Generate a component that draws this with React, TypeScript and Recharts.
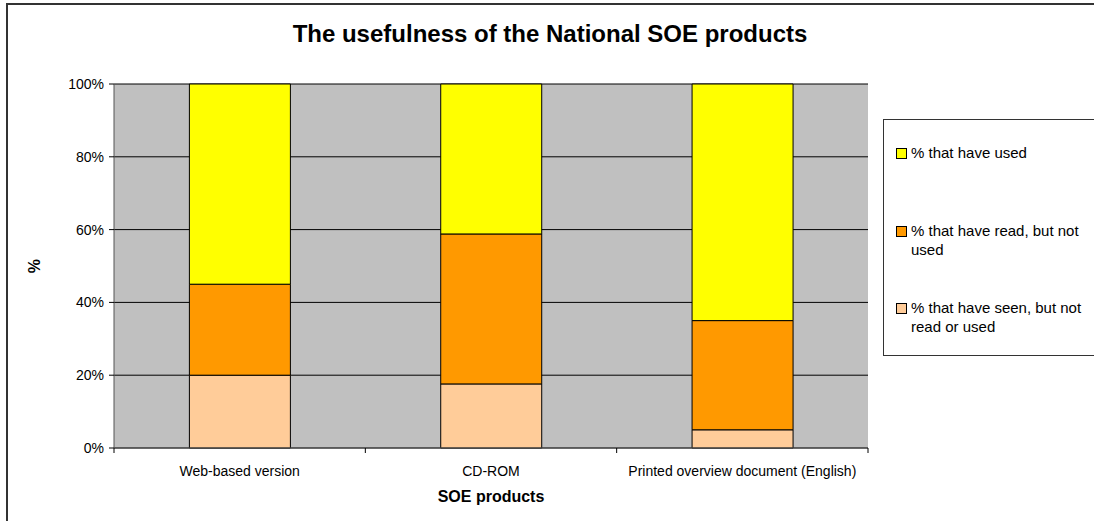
import React from 'react';
import { BarChart, Bar, XAxis, YAxis, CartesianGrid, Legend } from 'recharts';

const FONT = '"Liberation Sans", Arial, sans-serif';

// SOE products (categories)
const products = ['Web-based version', 'CD-ROM', 'Printed overview document (English)'];

// stacked shares, bottom to top
const seenNotUsed = [20, 17.6, 5];
const readNotUsed = [25, 41.2, 30];
const haveUsed = [55, 41.2, 65];

const yTicks = [0, 20, 40, 60, 80, 100];

const seriesNames = {
  seen: '% that have seen, but not read or used',
  read: '% that have read, but not used',
  used: '% that have used',
};

const seriesColors = {
  seen: '#FFCC99',
  read: '#FF9900',
  used: '#FFFF00',
};

// legend lists the top of the stack first
const legendOrder = ['used', 'read', 'seen'];

const chartData = products.map((name, i) => ({
  name,
  seen: seenNotUsed[i],
  read: readNotUsed[i],
  used: haveUsed[i],
}));

// category label plus Excel-style tick marks on the category boundaries
const CategoryTick = (props: any) => {
  const { x, y, payload, width, visibleTicksCount, index } = props;
  const band = width / visibleTicksCount;
  return (
    <g>
      {index === 0 && (
        <line x1={x - band / 2} y1={y} x2={x - band / 2} y2={y + 5} stroke="#000" />
      )}
      <line x1={x + band / 2} y1={y} x2={x + band / 2} y2={y + 5} stroke="#000" />
      <text x={x} y={y + 28} textAnchor="middle" fontSize={14} fontFamily={FONT} fill="#000">
        {payload.value}
      </text>
    </g>
  );
};

const LegendBox = (props: any) => {
  const payload = props.payload || [];
  const items = legendOrder
    .map((key) => payload.find((p: any) => p.dataKey === key))
    .filter(Boolean);
  return (
    <div
      style={{
        position: 'relative',
        width: 220,
        height: 237,
        border: '1px solid #333',
        background: '#fff',
        fontFamily: FONT,
        fontSize: 15,
        color: '#000',
        boxSizing: 'border-box',
      }}
    >
      {items.map((item: any, i: number) => (
        <div key={item.value} style={{ position: 'absolute', left: 12, top: 23 + i * 77.5 }}>
          <div
            style={{
              position: 'absolute',
              left: 0,
              top: 5,
              width: 9,
              height: 9,
              border: '1px solid #000',
              background: item.color,
            }}
          />
          <div style={{ position: 'absolute', left: 15, top: 0, width: 182, lineHeight: '19px' }}>
            {item.value}
          </div>
        </div>
      ))}
    </div>
  );
};

export default function App() {
  return (
    <div
      style={{
        position: 'absolute',
        left: 0,
        top: 0,
        width: 1094,
        height: 521,
        overflow: 'hidden',
        background: '#fff',
      }}
    >
      <div
        style={{
          position: 'absolute',
          left: 6,
          top: 3,
          width: 1200,
          height: 600,
          borderLeft: '2px solid #333',
          borderTop: '2px solid #333',
        }}
      />
      <div
        style={{
          position: 'absolute',
          left: 0,
          top: 20,
          width: 1100,
          textAlign: 'center',
          fontFamily: FONT,
          fontWeight: 'bold',
          fontSize: 24,
          color: '#000',
        }}
      >
        The usefulness of the National SOE products
      </div>
      <div style={{ position: 'absolute', left: 0, top: 0 }}>
        <BarChart
          width={1094}
          height={521}
          data={chartData}
          margin={{ top: 84, right: 226, bottom: 33, left: 34 }}
          barCategoryGap="30%"
        >
          <CartesianGrid
            yAxisId="left"
            vertical={false}
            stroke="#000"
            fill="#C0C0C0"
            fillOpacity={1}
          />
          <XAxis
            dataKey="name"
            height={40}
            tickLine={false}
            tickSize={0}
            tickMargin={0}
            interval={0}
            axisLine={{ stroke: '#555' }}
            tick={<CategoryTick />}
            label={{
              content: (p: any) => (
                <text
                  x={p.viewBox.x + p.viewBox.width / 2}
                  y={p.viewBox.y + 54}
                  textAnchor="middle"
                  fontSize={16}
                  fontWeight="bold"
                  fontFamily={FONT}
                  fill="#000"
                >
                  SOE products
                </text>
              ),
            }}
          />
          <YAxis
            yAxisId="left"
            width={80}
            domain={[0, 100]}
            ticks={yTicks}
            tickFormatter={(v: number) => `${v}%`}
            tickSize={5}
            tickMargin={5}
            tickLine={{ stroke: '#000' }}
            axisLine={{ stroke: '#555' }}
            tick={{ fontSize: 14, fontFamily: FONT, fill: '#000' }}
            label={{
              content: (p: any) => {
                const cy = p.viewBox.y + p.viewBox.height / 2;
                return (
                  <text
                    x={40}
                    y={cy}
                    transform={`rotate(-90, 40, ${cy})`}
                    textAnchor="middle"
                    fontSize={16}
                    fontWeight="bold"
                    fontFamily={FONT}
                    fill="#000"
                  >
                    %
                  </text>
                );
              },
            }}
          />
          <YAxis
            yAxisId="right"
            orientation="right"
            width={0}
            tick={false}
            tickLine={false}
            axisLine={{ stroke: '#808080' }}
          />
          <Legend
            layout="horizontal"
            verticalAlign="middle"
            content={<LegendBox />}
            wrapperStyle={{ position: 'absolute', left: 883, top: 119, width: 220, height: 237 }}
          />
          <Bar
            yAxisId="left"
            dataKey="seen"
            name={seriesNames.seen}
            stackId="a"
            fill={seriesColors.seen}
            stroke="#000"
            isAnimationActive={false}
          />
          <Bar
            yAxisId="left"
            dataKey="read"
            name={seriesNames.read}
            stackId="a"
            fill={seriesColors.read}
            stroke="#000"
            isAnimationActive={false}
          />
          <Bar
            yAxisId="left"
            dataKey="used"
            name={seriesNames.used}
            stackId="a"
            fill={seriesColors.used}
            stroke="#000"
            isAnimationActive={false}
          />
        </BarChart>
      </div>
    </div>
  );
}
